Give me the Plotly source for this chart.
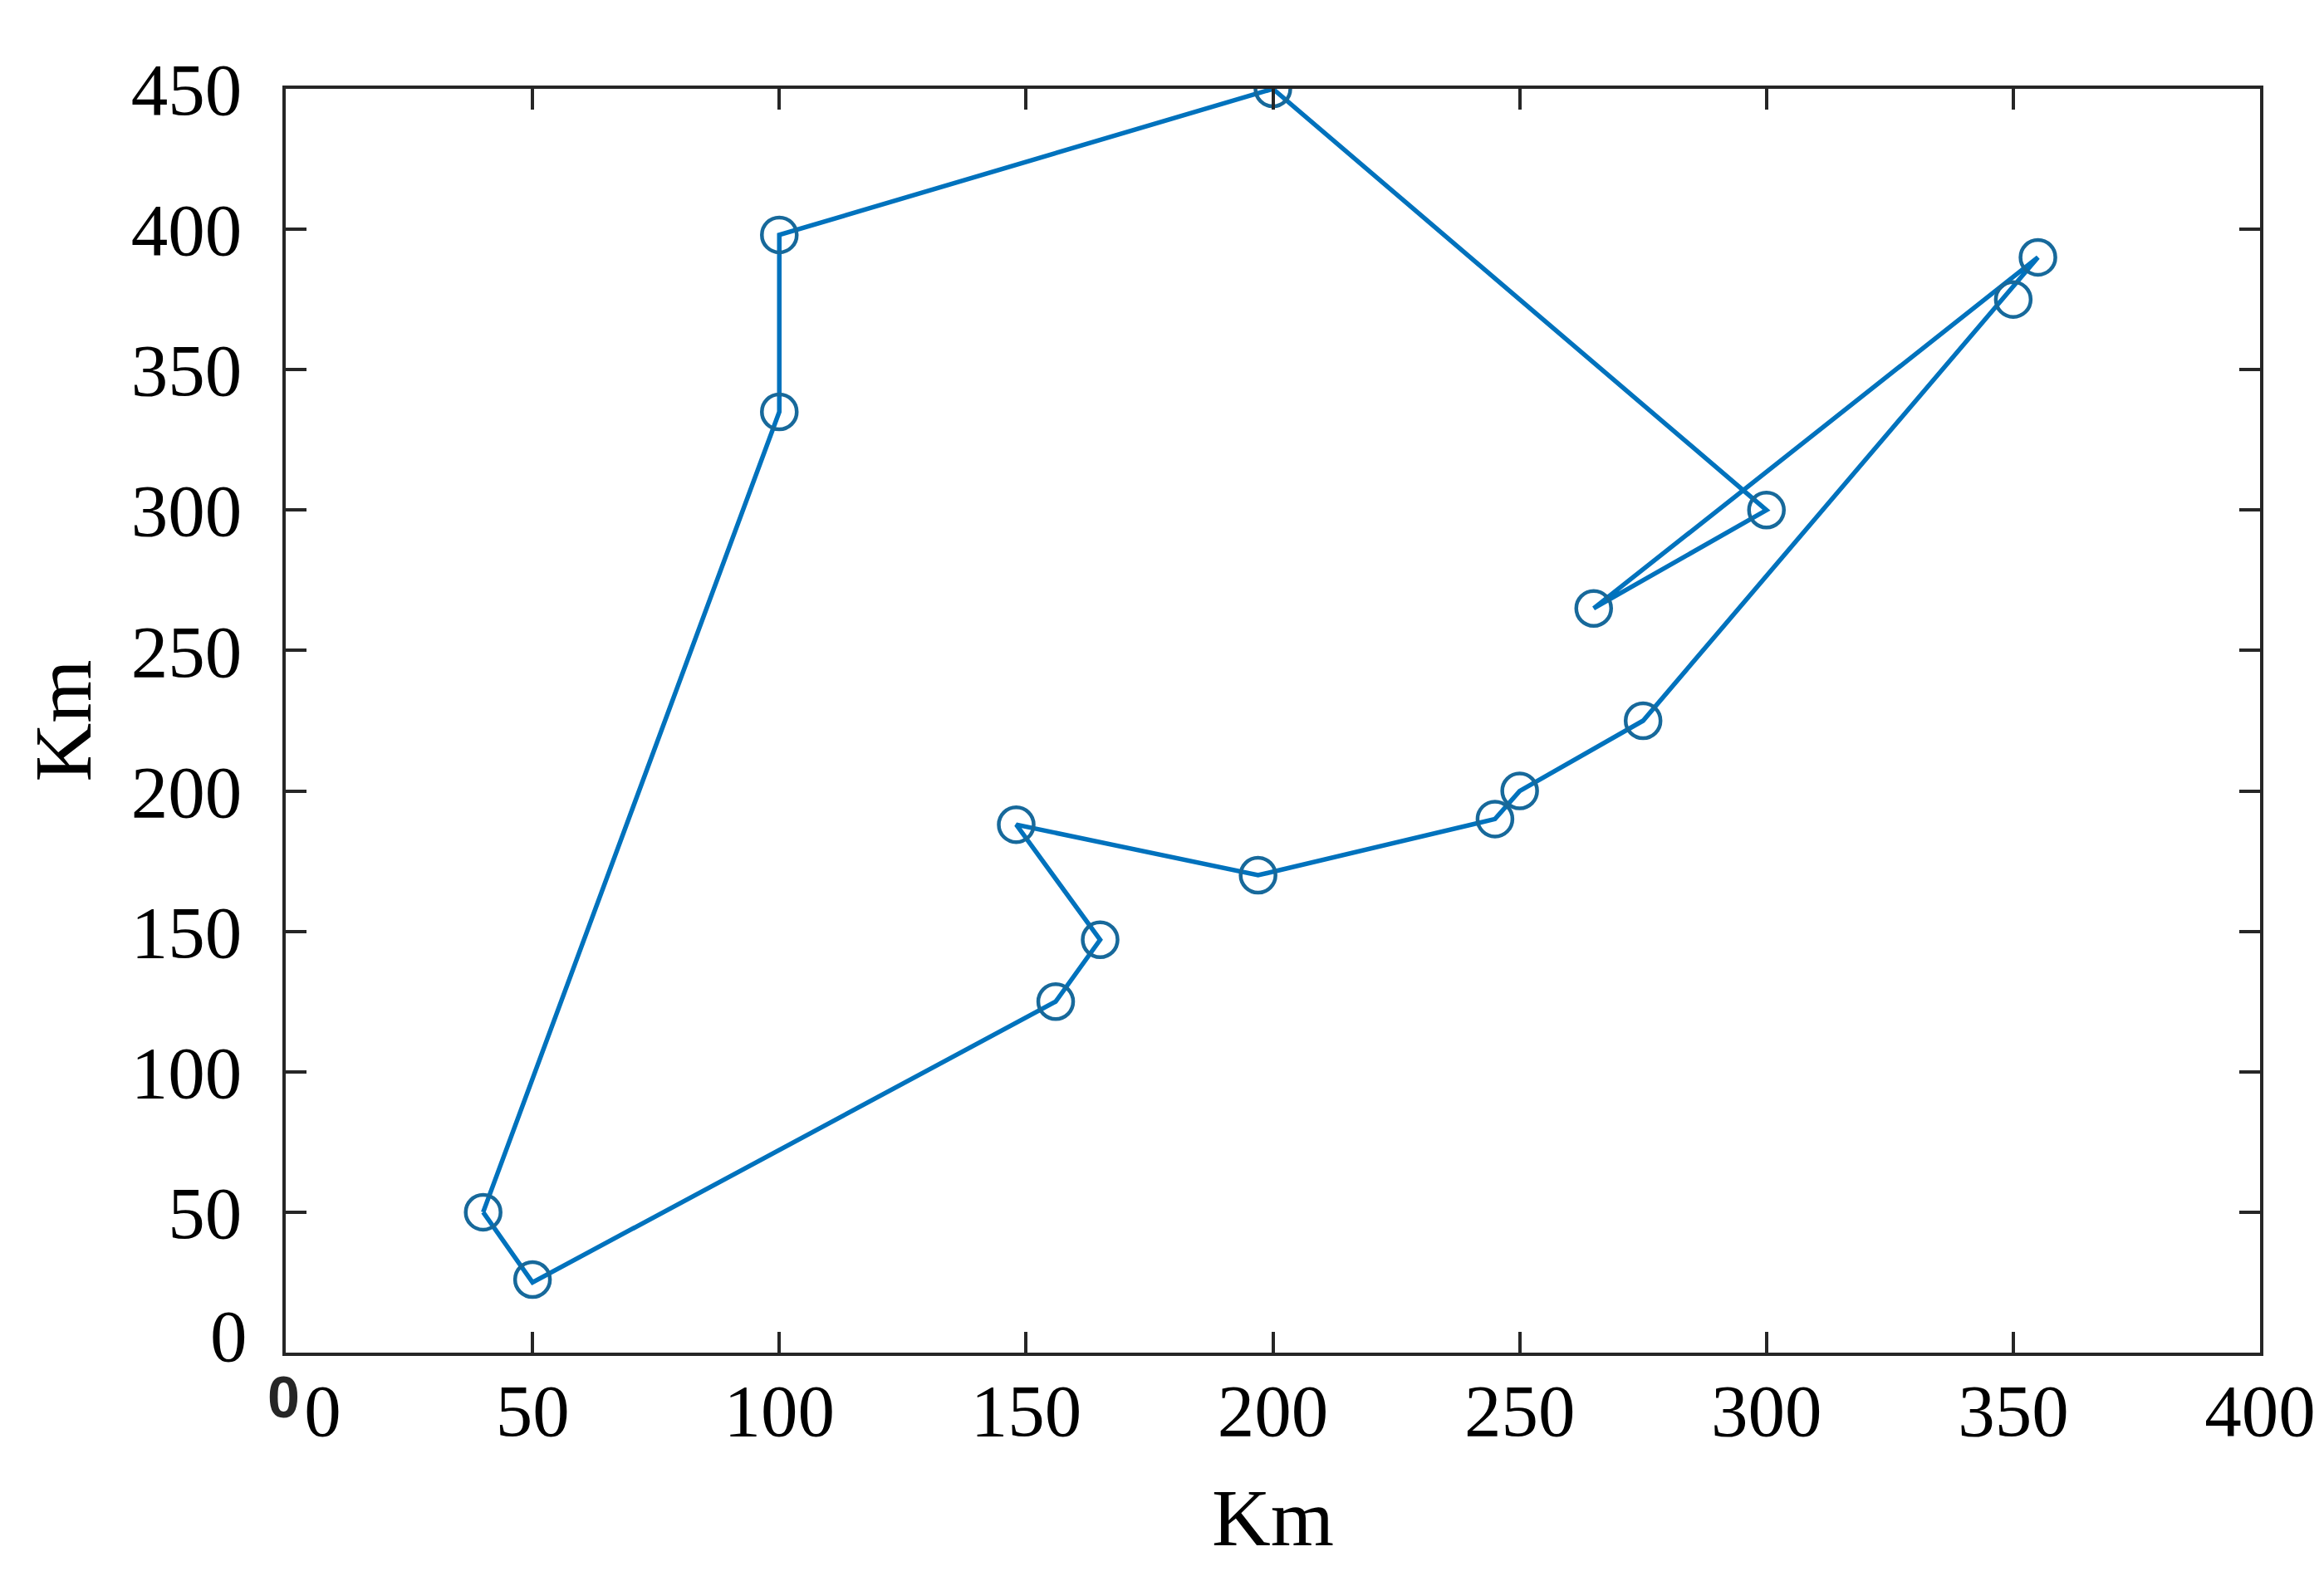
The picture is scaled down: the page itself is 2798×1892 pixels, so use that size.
import plotly.graph_objects as go

# customer locations (Km)
stop_x = [200, 100, 100, 40, 50, 156, 165, 148, 197, 245, 250, 275, 350, 355, 300, 265]
stop_y = [450, 398, 335, 50, 26, 125, 147, 188, 170, 190, 200, 225, 375, 390, 300, 265]

# vehicle route, in visiting order
route_x = [40, 100, 100, 200, 300, 265, 355, 275, 250, 245, 197, 148, 165, 156, 50, 40]
route_y = [50, 335, 398, 450, 300, 265, 390, 225, 200, 190, 170, 188, 147, 125, 25, 50]

# depot marker just below the origin
depot_x = [-0.5]
depot_y = [-16]

x_ticks = [0, 50, 100, 150, 200, 250, 300, 350, 400]
y_ticks = [0, 50, 100, 150, 200, 250, 300, 350, 400, 450]

FONT = "Liberation Serif, Times New Roman, serif"
AXIS_COLOR = "#262626"
WIDTH, HEIGHT = 2798, 1892
MARGIN = {"l": 336, "r": 85, "t": 99, "b": 271}
X_RANGE = [0, 400]
Y_RANGE = [0, 450]
TICK_FONT = {"size": 89, "color": "black", "family": FONT}
TITLE_FONT = {"size": 98, "color": "black", "family": FONT}

fig = go.Figure()
fig.add_trace(
    go.Scatter(
        x=route_x,
        y=route_y,
        mode="lines",
        line={"color": "#0072BD", "width": 5.5},
        showlegend=False,
    )
)
fig.add_trace(
    go.Scatter(
        x=stop_x,
        y=stop_y,
        mode="markers",
        marker={
            "symbol": "circle-open",
            "size": 42,
            "color": "#17699B",
            "line": {"width": 4.5, "color": "#17699B"},
        },
        showlegend=False,
    )
)

# the depot lies outside the axes, where plotly hides traces and
# annotations, so anchor the glyph on the axis corner and shift it
px_per_km_x = (WIDTH - MARGIN["l"] - MARGIN["r"]) / (X_RANGE[1] - X_RANGE[0])
px_per_km_y = (HEIGHT - MARGIN["t"] - MARGIN["b"]) / (Y_RANGE[1] - Y_RANGE[0])
for dx, dy in zip(depot_x, depot_y):
    fig.add_annotation(
        x=X_RANGE[0],
        y=Y_RANGE[0],
        xref="x",
        yref="y",
        xshift=dx * px_per_km_x,
        yshift=dy * px_per_km_y,
        text="<b>0</b>",
        showarrow=False,
        font={"size": 70, "color": AXIS_COLOR, "family": "Liberation Sans, Arial, sans-serif"},
    )

# the y "0" label sits a little above the corner
fig.add_annotation(
    x=X_RANGE[0],
    y=y_ticks[0],
    xref="x",
    yref="y",
    xanchor="right",
    xshift=-44,
    yshift=20,
    text=str(y_ticks[0]),
    showarrow=False,
    font=TICK_FONT,
)

x_text = ["\u00a0" * 4 + "0"] + [str(v) for v in x_ticks[1:]]
y_text = [""] + [str(v) for v in y_ticks[1:]]

fig.update_xaxes(
    range=X_RANGE,
    tickvals=x_ticks,
    ticktext=x_text,
    ticks="inside",
    ticklen=25,
    tickwidth=4,
    tickcolor=AXIS_COLOR,
    showline=True,
    linewidth=4,
    linecolor=AXIS_COLOR,
    mirror="ticks",
    showgrid=False,
    zeroline=False,
    automargin=False,
    tickfont=TICK_FONT,
    ticklabelstandoff=-11,
    title={"text": "Km", "font": TITLE_FONT, "standoff": 47},
)
fig.update_yaxes(
    range=Y_RANGE,
    tickvals=y_ticks,
    ticktext=y_text,
    ticks="inside",
    ticklen=25,
    tickwidth=4,
    tickcolor=AXIS_COLOR,
    showline=True,
    linewidth=4,
    linecolor=AXIS_COLOR,
    mirror="ticks",
    showgrid=False,
    zeroline=False,
    automargin=False,
    tickfont=TICK_FONT,
    ticklabelstandoff=31,
    title={"text": "Km", "font": TITLE_FONT, "standoff": 16},
)
fig.update_layout(
    width=WIDTH,
    height=HEIGHT,
    margin=MARGIN,
    paper_bgcolor="white",
    plot_bgcolor="white",
    font_family=FONT,
)
fig.write_html("out.html")
